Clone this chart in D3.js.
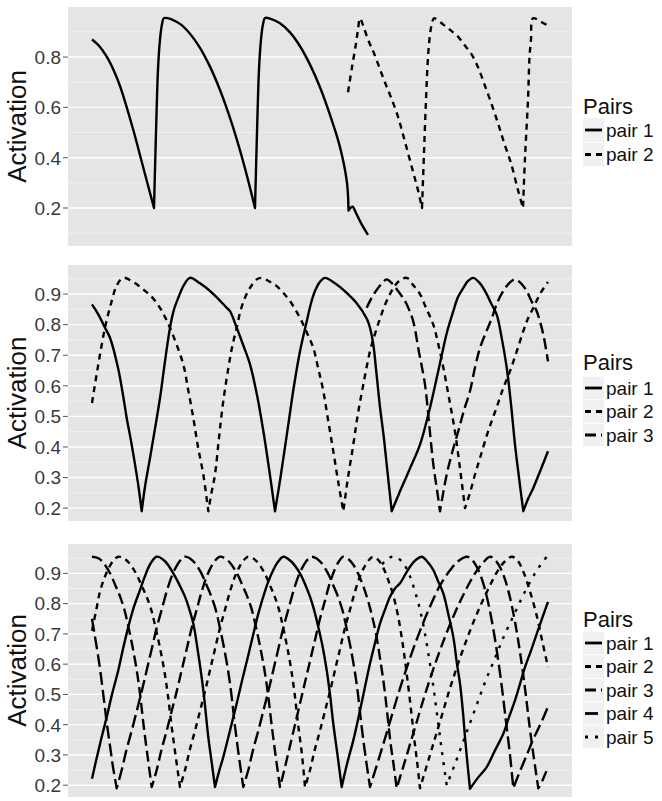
<!DOCTYPE html>
<html><head><meta charset="utf-8">
<script src="https://cdn.jsdelivr.net/npm/d3@7"></script>
<style>body{margin:0;background:#fff}svg{display:block}</style>
</head><body><div id="chart"></div>
<script>
// ---------------- data (t = time step, v = activation) ----------------
const pairNames = ["pair 1","pair 2","pair 3","pair 4","pair 5"];
const legendTitle = "Pairs";
const yTitle = "Activation";
const ticksTop = [0.2,0.4,0.6,0.8];
const ticksLower = [0.2,0.3,0.4,0.5,0.6,0.7,0.8,0.9];

// panel 1
const p1Pair1 = [[0,0.87],[7,0.845],[15,0.80],[22,0.745],[28,0.685],[34,0.61],[42,0.50],[50,0.38],[56,0.29],[62,0.20],
 [64,0.5],[66,0.75],[68,0.87],[70,0.93],[72,0.955],
 [80,0.949],[88,0.932],[98,0.893],[108,0.837],[118,0.762],[128,0.669],[138,0.558],[148,0.429],[156,0.312],[163,0.2],
 [165,0.5],[167,0.75],[169,0.87],[171,0.93],[173,0.955],
 [178,0.953],[188,0.934],[198,0.898],[208,0.843],[218,0.770],[228,0.680],[239,0.558],[248,0.442],[255,0.30],[256.5,0.19],[260.5,0.205],[264,0.18],[269,0.14],[276,0.093]];
const p1Pair2 = [[256,0.66],[260,0.76],[264,0.854],[266,0.91],[268,0.954],[271,0.927],[276,0.87],[282,0.815],[292,0.709],[299,0.64],[306,0.563],[311.5,0.485],[317,0.404],[322,0.33],[326,0.271],[330,0.2],
 [332,0.42],[334,0.63],[336,0.8],[338,0.89],[340,0.935],[342,0.954],
 [352,0.927],[359,0.905],[366,0.881],[372,0.85],[379,0.815],[386,0.76],[392,0.696],[399,0.62],[406,0.537],[412,0.46],[419,0.378],[426,0.271],[431,0.2],
 [433,0.4],[436,0.63],[437.5,0.8],[439,0.87],[441,0.954],[449,0.94],[456,0.925]];

// panel 2
const p2Pair1 = [[0,0.866],[6,0.835],[13,0.79],[18,0.757],[26,0.659],[30.5,0.58],[34.7,0.495],[39,0.42],[43,0.343],[46.5,0.27],[49.7,0.19],
 [53,0.27],[58,0.364],[63,0.46],[68,0.56],[73,0.68],[78,0.79],[82,0.85],[86.3,0.888],[92,0.93],[98,0.953],
 [108,0.935],[118,0.91],[126,0.885],[134.7,0.855],[138,0.844],[144.7,0.79],[151,0.735],[158,0.67],[165,0.57],[171.3,0.453],[177,0.33],[183,0.19],
 [188,0.29],[196.3,0.473],[202,0.6],[208,0.713],[214.7,0.81],[219,0.87],[223,0.91],[228,0.94],[233,0.953],
 [243,0.935],[254.7,0.904],[264.7,0.87],[274.7,0.82],[278,0.79],[281.3,0.735],[284.5,0.64],[288,0.53],[291.5,0.44],[294.7,0.343],[299.7,0.19],
 [308,0.255],[318,0.33],[328,0.408],[336.3,0.506],[343,0.6],[349.7,0.70],[355,0.775],[361.3,0.844],[366,0.89],[371.3,0.92],[376,0.943],[381.3,0.953],
 [388,0.935],[394.7,0.9],[399,0.87],[404.7,0.833],[409.5,0.76],[414.7,0.66],[419,0.54],[423,0.408],[427,0.3],[431.3,0.19],
 [436,0.23],[441.3,0.266],[448,0.32],[456,0.386]];
const p2Pair2 = [[0,0.544],[6.3,0.67],[13,0.79],[19.7,0.877],[25,0.93],[31.3,0.953],
 [41,0.94],[51.3,0.915],[60,0.89],[68,0.855],[73,0.825],[78,0.79],[84,0.74],[91.3,0.67],[96,0.59],[101.3,0.495],[106,0.4],[111.3,0.31],[116.3,0.19],
 [119.5,0.25],[123,0.31],[127,0.43],[131.3,0.55],[138,0.69],[141,0.74],[144.7,0.79],[148.5,0.845],[153,0.888],[158,0.92],[164.7,0.948],[169.7,0.953],
 [178,0.94],[184.7,0.926],[191,0.905],[198,0.877],[205,0.84],[211.3,0.80],[216,0.765],[221.3,0.724],[226,0.66],[231.3,0.583],[236,0.49],[241.3,0.386],[246,0.29],[251.3,0.19],
 [256,0.3],[261.3,0.408],[266,0.51],[271.3,0.604],[278,0.713],[283,0.77],[288,0.82],[293,0.865],[298,0.9],[303,0.928],[308,0.945],[314.7,0.953],
 [321,0.93],[328,0.9],[334,0.855],[341.3,0.80],[346,0.74],[351.3,0.66],[357,0.56],[363,0.45],[368,0.33],[373,0.2],
 [378,0.25],[383,0.31],[388,0.364],[396,0.45],[404.7,0.53],[411,0.59],[418,0.648],[425,0.715],[431.3,0.779],[436,0.82],[441.3,0.855],[448,0.9],[456,0.94]];
const p2Pair3 = [[274.7,0.855],[280,0.89],[285,0.915],[290,0.935],[294.7,0.948],
 [300,0.935],[306,0.91],[313,0.877],[317,0.85],[321.3,0.81],[327,0.71],[333,0.604],[337,0.48],[341.3,0.343],[345,0.26],[348,0.19],
 [354.7,0.31],[360,0.38],[366.3,0.452],[372,0.52],[378,0.583],[383,0.66],[388,0.724],[394,0.775],[399.7,0.82],[405,0.87],[411.3,0.91],[417,0.935],[423,0.948],
 [429,0.935],[434.7,0.91],[439,0.88],[444.7,0.844],[448,0.81],[451.3,0.768],[456,0.68]];

// panel 3
const p3Pair1 = [[0,0.221],[4,0.28],[9,0.35],[14.7,0.425],[20,0.5],[26.3,0.58],[31,0.65],[36.3,0.723],[42,0.79],[48,0.845],[54,0.9],[59,0.935],[64.7,0.955],
 [73,0.94],[81.3,0.9],[87,0.865],[93,0.823],[97,0.785],[101.3,0.734],[106,0.64],[111.3,0.514],[116.3,0.359],[119.5,0.28],[123,0.194],
 [127,0.245],[131.3,0.293],[138,0.381],[144.7,0.47],[150,0.545],[156,0.625],[163,0.723],[167,0.775],[171.3,0.823],[176,0.87],[181.3,0.911],[186,0.938],[191.3,0.955],
 [199,0.94],[208,0.9],[213,0.865],[218,0.823],[222,0.78],[226.3,0.723],[230.5,0.66],[234.7,0.58],[238,0.5],[241.3,0.403],[245.5,0.3],[249.7,0.194],
 [255,0.27],[261.3,0.348],[268,0.447],[273,0.525],[278,0.602],[283,0.67],[288,0.734],[293,0.78],[298,0.823],[303,0.85],[308,0.867],[313,0.895],[318,0.922],[324,0.945],[329.7,0.955],
 [335,0.94],[341.3,0.911],[346,0.875],[351.3,0.834],[356,0.77],[361.3,0.69],[365,0.6],[368,0.536],[371,0.44],[373,0.359],[375.5,0.27],[378,0.188],
 [386,0.225],[394.7,0.26],[403,0.315],[411.3,0.37],[417,0.425],[423,0.48],[428,0.535],[433,0.59],[439,0.645],[444.7,0.70],[450,0.75],[456,0.806]];
const p3Pair2 = [[0,0.71],[4.3,0.78],[8,0.84],[13,0.89],[18,0.925],[22,0.945],[26.3,0.955],
 [31.6,0.95],[36.9,0.935],[44,0.9],[49.6,0.86],[54.6,0.823],[59.2,0.78],[63.4,0.723],[67.6,0.66],[72.2,0.58],[75.8,0.5],[79.3,0.403],[83.5,0.3],[88,0.194],
 [93,0.25],[98,0.32],[103,0.38],[108,0.445],[113,0.51],[118,0.58],[123,0.65],[128,0.72],[133,0.78],[138,0.84],[143,0.89],[148,0.925],[153,0.948],[156,0.955],
 [161,0.95],[166,0.935],[172.7,0.9],[178,0.86],[182.7,0.823],[187,0.78],[191,0.723],[195,0.66],[199.3,0.58],[202.7,0.5],[206,0.403],[210,0.3],[213,0.194],
 [218,0.25],[223,0.32],[228,0.38],[233,0.445],[238,0.51],[243,0.58],[248,0.65],[253,0.72],[258,0.78],[263,0.84],[268,0.89],[273,0.925],[278,0.948],[281,0.955],
 [286,0.945],[291,0.92],[296,0.88],[301,0.83],[306,0.76],[311,0.66],[315,0.56],[319,0.45],[322,0.36],[325,0.28],[328,0.19],
 [338,0.3],[348,0.41],[358,0.52],[368,0.62],[378,0.71],[388,0.79],[398,0.86],[406,0.91],[413,0.94],[420,0.955],
 [426,0.94],[432,0.9],[438,0.84],[444,0.77],[450,0.68],[456,0.59]];
const p3Pair3 = [[0,0.955],[6.4,0.95],[11.4,0.935],[18.1,0.9],[23.4,0.86],[28.1,0.823],[32.4,0.78],[36.4,0.723],[40.4,0.66],[44.7,0.58],[48.1,0.5],[51.4,0.403],[55.4,0.3],[59.7,0.194],
 [64.7,0.25],[69.7,0.32],[74.7,0.38],[79.7,0.445],[84.7,0.51],[89.7,0.58],[94.7,0.65],[99.7,0.72],[104.7,0.78],[109.7,0.84],[114.7,0.89],[119.7,0.925],[124.7,0.948],[127.7,0.955],
 [133,0.95],[138,0.935],[145,0.9],[150.5,0.86],[155.3,0.823],[159.8,0.78],[163.9,0.723],[168,0.66],[172.5,0.58],[176,0.5],[179.5,0.403],[183.5,0.3],[188,0.194],
 [193,0.26],[198,0.33],[203,0.4],[208,0.47],[213,0.54],[218,0.61],[223,0.68],[228,0.75],[233,0.81],[238,0.87],[243,0.915],[247,0.94],[251,0.955],
 [256,0.948],[261,0.93],[266,0.9],[271,0.86],[276,0.81],[280,0.76],[284,0.7],[288,0.62],[292,0.53],[295.5,0.43],[298.5,0.34],[301.5,0.27],[304.7,0.19],
 [313,0.28],[323,0.39],[333,0.5],[343,0.6],[353,0.69],[363,0.77],[373,0.84],[383,0.9],[391,0.935],[398,0.955],
 [403,0.945],[408,0.92],[413,0.88],[418,0.82],[423,0.74],[428,0.64],[433,0.52],[437,0.41],[441,0.31],[446.3,0.19],
 [451,0.22],[456,0.26]];
const p3Pair4 = [[0,0.75],[3,0.69],[6,0.63],[9,0.56],[12,0.48],[15,0.4],[18,0.33],[21,0.26],[24.7,0.19],
 [29.7,0.25],[34.7,0.32],[39.7,0.38],[44.7,0.445],[49.7,0.51],[54.7,0.58],[59.7,0.65],[64.7,0.72],[69.7,0.78],[74.7,0.84],[79.7,0.89],[84.7,0.925],[89.7,0.948],[92.7,0.955],
 [97.7,0.95],[102.7,0.935],[109.4,0.9],[114.7,0.86],[119.4,0.823],[123.7,0.78],[127.7,0.723],[131.7,0.66],[136,0.58],[139.4,0.5],[142.7,0.403],[146.7,0.3],[151.3,0.194],
 [156.3,0.25],[161.3,0.32],[166.3,0.38],[171.3,0.445],[176.3,0.51],[181.3,0.58],[186.3,0.65],[191.3,0.72],[196.3,0.78],[201.3,0.84],[206.3,0.89],[211.3,0.925],[216.3,0.948],[219.3,0.955],
 [224.3,0.95],[229.3,0.935],[236,0.9],[241.3,0.86],[246,0.823],[250.3,0.78],[254.3,0.723],[258.3,0.66],[262.6,0.58],[266,0.5],[269.3,0.403],[273.3,0.3],[278,0.194],
 [288,0.3],[298,0.41],[308,0.52],[318,0.62],[328,0.71],[338,0.79],[348,0.86],[358,0.91],[366,0.94],[375,0.955],
 [380,0.945],[385,0.92],[390,0.88],[395,0.82],[400,0.74],[405,0.64],[410,0.52],[414,0.41],[418,0.3],[421.3,0.19],
 [426,0.23],[431,0.27],[436,0.31],[441,0.35],[446,0.385],[451,0.42],[456,0.46]];
const p3Pair5 = [[290,0.93],[295,0.945],[300,0.955],[306,0.95],[312,0.93],[318,0.89],[323,0.84],[328,0.78],[333,0.7],[338,0.6],[342,0.51],[346,0.41],[350,0.31],[354.7,0.2],
 [363,0.27],[373,0.36],[383,0.45],[393,0.54],[403,0.62],[413,0.7],[423,0.77],[433,0.84],[443,0.9],[449,0.93],[454.7,0.955]];

// ---------------- styling / layout ----------------
const FONT = "'Liberation Sans', Arial, Helvetica, sans-serif";
const dashes = [null, "6,5", "11,5", "13,5", "3,7"];
const plotL = 68, plotR = 572;
const panels = [
  {top:7, bottom:246, dom:[0.049,0.999], ticks:ticksTop, series:[p1Pair1,p1Pair2], legTitleY:114, legRow0:130, legStep:24.5},
  {top:265, bottom:521, dom:[0.158,0.995], ticks:ticksLower, series:[p2Pair1,p2Pair2,p2Pair3], legTitleY:370, legRow0:388, legStep:23.5},
  {top:544, bottom:797, dom:[0.161,0.997], ticks:ticksLower, series:[p3Pair1,p3Pair2,p3Pair3,p3Pair4,p3Pair5], legTitleY:627, legRow0:643, legStep:23.5}
];

const svg = d3.select("#chart").append("svg").attr("width",662).attr("height",801)
  .style("font-family", FONT);

const x = d3.scaleLinear().domain([0,456]).range([92,548]);

// split a series at its local minima (sharp troughs) so the smoothing keeps them pointed
function splitAtTroughs(s){
  const segs=[]; let cur=[s[0]];
  for(let i=1;i<s.length;i++){
    cur.push(s[i]);
    if(i<s.length-1 && s[i][1]<s[i-1][1] && s[i][1]<s[i+1][1]){ segs.push(cur); cur=[s[i]]; }
  }
  segs.push(cur);
  return segs;
}

panels.forEach((p,pi) => {
  const y = d3.scaleLinear().domain(p.dom).range([p.bottom,p.top]);
  const g = svg.append("g");
  g.append("rect").attr("x",plotL).attr("y",p.top).attr("width",plotR-plotL).attr("height",p.bottom-p.top).attr("fill","#E5E5E5");
  // minor grid
  const step = p.ticks[1]-p.ticks[0];
  const minors = [];
  for (let i=-1;i<p.ticks.length;i++){
    const m = +(p.ticks[0] + step*(i+0.5)).toFixed(3);
    if (m>p.dom[0] && m<p.dom[1]) minors.push(m);
  }
  g.selectAll(".minor").data(minors).enter().append("line")
    .attr("x1",plotL).attr("x2",plotR).attr("y1",d=>y(d)).attr("y2",d=>y(d))
    .attr("stroke","#F4F4F4").attr("stroke-width",0.8);
  g.selectAll(".major").data(p.ticks).enter().append("line")
    .attr("x1",plotL).attr("x2",plotR).attr("y1",d=>y(d)).attr("y2",d=>y(d))
    .attr("stroke","#FFFFFF").attr("stroke-width",1.4);
  // axis ticks + labels
  g.selectAll(".tk").data(p.ticks).enter().append("line")
    .attr("x1",63).attr("x2",plotL).attr("y1",d=>y(d)).attr("y2",d=>y(d))
    .attr("stroke","#555").attr("stroke-width",1);
  g.selectAll(".tl").data(p.ticks).enter().append("text")
    .attr("x",61).attr("y",d=>y(d)).attr("dy","0.36em").attr("text-anchor","end")
    .attr("font-size",19).attr("fill","#3a3a3a").text(d=>d.toFixed(1));
  // y title
  const cy = (p.top+p.bottom)/2;
  g.append("text").attr("transform",`translate(26,${cy}) rotate(-90)`)
    .attr("text-anchor","middle").attr("font-size",26).attr("fill","#111").text(yTitle);
  // clip
  const cid = "clip"+pi;
  svg.append("clipPath").attr("id",cid).append("rect")
    .attr("x",plotL).attr("y",p.top).attr("width",plotR-plotL).attr("height",p.bottom-p.top);
  const line = d3.line().x(d=>x(d[0])).y(d=>y(d[1])).curve(d3.curveCatmullRom.alpha(0.5));
  const lg = g.append("g").attr("clip-path",`url(#${cid})`);
  p.series.forEach((s,si) => {
    const d = splitAtTroughs(s).map((seg,k)=>{ const ps=line(seg); return k===0?ps:"L"+ps.slice(1); }).join("");
    lg.append("path").attr("d",d).attr("fill","none").attr("stroke","#000")
      .attr("stroke-width",2.4).attr("stroke-linejoin","round")
      .attr("stroke-dasharray",dashes[si]);
  });
  // legend
  const leg = g.append("g");
  leg.append("text").attr("x",583).attr("y",p.legTitleY).attr("font-size",22).attr("fill","#111").text(legendTitle);
  p.series.forEach((s,si) => {
    const ry = p.legRow0 + si*p.legStep;
    leg.append("rect").attr("x",583).attr("y",ry-p.legStep/2+0.5).attr("width",21).attr("height",p.legStep-1)
      .attr("fill","#F0F0F0");
    leg.append("line").attr("x1",585).attr("x2",602).attr("y1",ry).attr("y2",ry)
      .attr("stroke","#000").attr("stroke-width",2.8).attr("stroke-dasharray",dashes[si]);
    leg.append("text").attr("x",606).attr("y",ry).attr("dy","0.36em").attr("font-size",19).attr("fill","#111").text(pairNames[si]);
  });
});
</script></body></html>
